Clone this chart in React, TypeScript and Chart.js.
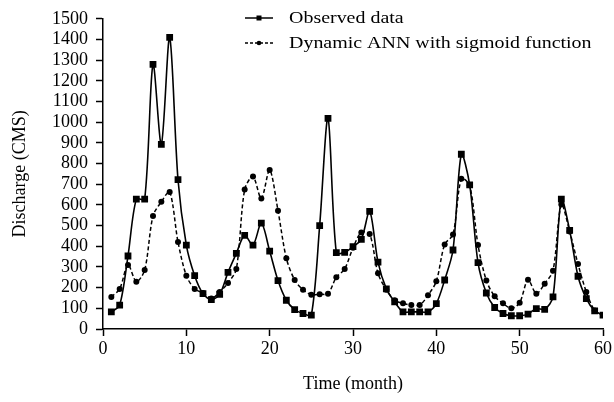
import React, { useEffect, useRef } from "react";
import { Chart, registerables } from "chart.js";

Chart.register(...registerables);

const months: number[] = Array.from({ length: 60 }, (_, i) => i + 1);

const observed: number[] = [
  83, 115, 353, 628, 628, 1280, 893, 1410, 722, 406,
  258, 171, 142, 168, 274, 366, 453, 406, 512, 377,
  234, 139, 94, 75, 67, 500, 1019, 369, 371, 398,
  433, 569, 323, 194, 131, 83, 83, 83, 83, 123,
  237, 382, 845, 697, 321, 174, 104, 75, 64, 64,
  72, 99, 95, 155, 628, 477, 255, 147, 88, 67,
];

const predicted: number[] = [
  155, 194, 310, 229, 285, 547, 615, 663, 421, 258,
  194, 174, 147, 179, 223, 290, 675, 737, 631, 769,
  572, 342, 237, 190, 166, 168, 171, 250, 290, 393,
  467, 459, 269, 190, 139, 124, 116, 116, 163, 231,
  409, 457, 726, 695, 406, 235, 158, 124, 100, 127,
  238, 171, 219, 282, 602, 472, 314, 179, 90, 68,
];

const seriesLabels: string[] = ["Observed data", "Dynamic ANN with sigmoid function"];
const xTitle = "Time (month)";
const yTitle = "Discharge (CMS)";

const FONT = "'Liberation Serif', 'DejaVu Serif', serif";
const FS = 18;

const legendPlugin = {
  id: "customLegend",
  afterDraw(chart: any) {
    const ctx = chart.ctx;
    ctx.save();
    const items = [
      { y: 18, dash: [] as number[], style: "rect" },
      { y: 43, dash: [3, 2], style: "circle" },
    ];
    items.forEach((it, i) => {
      ctx.strokeStyle = "#000";
      ctx.fillStyle = "#000";
      ctx.lineWidth = 1.5;
      ctx.setLineDash(it.dash);
      ctx.beginPath();
      ctx.moveTo(245, it.y);
      ctx.lineTo(273, it.y);
      ctx.stroke();
      ctx.setLineDash([]);
      if (it.style === "rect") {
        ctx.fillRect(256.5, it.y - 2.5, 5, 5);
      } else {
        ctx.beginPath();
        ctx.arc(259, it.y, 2.3, 0, Math.PI * 2);
        ctx.fill();
      }
      ctx.save();
      ctx.translate(289, it.y);
      ctx.scale(1.14, 1);
      ctx.font = `17.5px ${FONT}`;
      ctx.textBaseline = "middle";
      ctx.textAlign = "left";
      ctx.fillText(seriesLabels[i], 0, 0);
      ctx.restore();
    });
    ctx.restore();
  },
};

export default function App() {
  const ref = useRef<HTMLCanvasElement | null>(null);

  useEffect(() => {
    document.body.style.margin = "0";
    const canvas = ref.current;
    if (!canvas) return;
    const chart = new Chart(canvas, {
      type: "line",
      data: {
        datasets: [
          {
            label: seriesLabels[0],
            data: months.map((m, i) => ({ x: m, y: observed[i] })),
            borderColor: "#000",
            backgroundColor: "#000",
            borderWidth: 1.6,
            pointStyle: "rect",
            pointRadius: 4.8,
            pointBorderWidth: 0,
            tension: 0.3,
            fill: false,
          },
          {
            label: seriesLabels[1],
            data: months.map((m, i) => ({ x: m, y: predicted[i] })),
            borderColor: "#000",
            backgroundColor: "#000",
            borderWidth: 1.5,
            borderDash: [4, 2.5],
            pointStyle: "circle",
            pointRadius: 3,
            pointBorderWidth: 0,
            tension: 0.3,
            fill: false,
          },
        ],
      },
      options: {
        responsive: false,
        animation: false,
        layout: { padding: { top: 14, right: 11, left: 0, bottom: 0 } },
        plugins: {
          legend: { display: false },
          tooltip: { enabled: false },
        },
        scales: {
          x: {
            type: "linear",
            min: 0,
            max: 60,
            afterFit: (s: any) => {
              s.height = 73;
            },
            ticks: {
              stepSize: 10,
              autoSkip: false,
              color: "#000",
              font: { family: FONT, size: FS },
              padding: 2,
              maxRotation: 0,
              callback: (v: any) => String(v),
            },
            grid: {
              drawOnChartArea: false,
              drawTicks: true,
              tickLength: 7,
              tickColor: "#000",
              tickWidth: 1.5,
            },
            border: { display: true, color: "#000", width: 1.5 },
            title: {
              display: true,
              text: xTitle,
              color: "#000",
              font: { family: FONT, size: FS },
              padding: { top: 0, bottom: 7 },
            },
          },
          y: {
            type: "linear",
            min: 0,
            max: 1500,
            afterFit: (s: any) => {
              s.width = 103;
            },
            ticks: {
              stepSize: 100,
              autoSkip: false,
              color: "#000",
              font: { family: FONT, size: FS },
              padding: 8,
              callback: (v: any) => String(v),
            },
            grid: {
              drawOnChartArea: false,
              drawTicks: true,
              tickLength: 7,
              tickColor: "#000",
              tickWidth: 1.5,
            },
            border: { display: true, color: "#000", width: 1.5 },
            title: {
              display: true,
              text: yTitle,
              color: "#000",
              font: { family: FONT, size: FS },
              padding: { top: 9, bottom: 0 },
            },
          },
        },
      },
      plugins: [legendPlugin],
    });
    return () => chart.destroy();
  }, []);

  return (
    <div style={{ position: "absolute", left: 0, top: 0, width: 614, height: 402, background: "#fff" }}>
      <canvas ref={ref} width={614} height={402} style={{ width: 614, height: 402 }} />
    </div>
  );
}
